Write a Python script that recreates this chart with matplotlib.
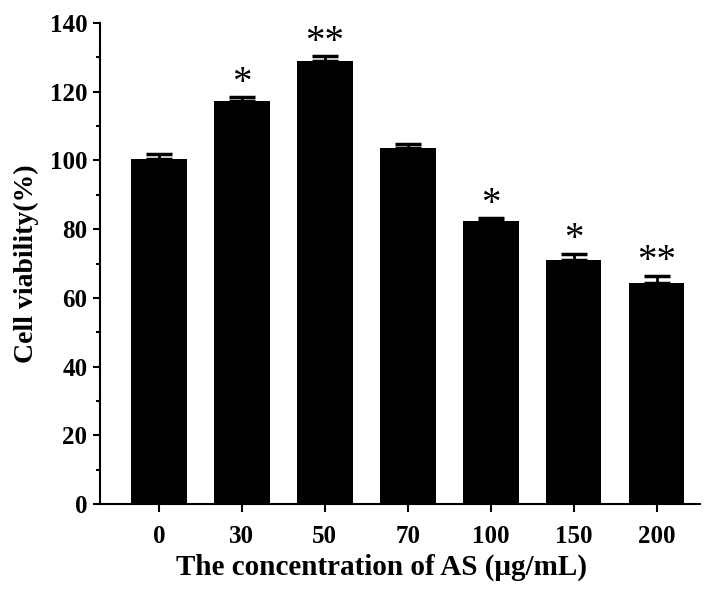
import matplotlib
matplotlib.use("Agg")
import matplotlib.pyplot as plt
import numpy as np
from matplotlib.ticker import MultipleLocator

categories = ["0", "30", "50", "70", "100", "150", "200"]
values = [100.3, 117.2, 129.0, 103.5, 82.4, 71.1, 64.3]
errors = [1.5, 1.3, 1.4, 1.2, 0.8, 1.8, 2.2]
marks = ["", "*", "**", "", "*", "*", "**"]

plt.rcParams['font.family'] = ['Liberation Serif', 'DejaVu Serif']
plt.rcParams['font.weight'] = 'bold'

fig = plt.figure(figsize=(7.09, 5.98), dpi=100)
ax = fig.add_axes([0.141, 0.157, 0.846, 0.8045])

x = np.arange(len(categories))
ax.bar(x, values, width=0.67, color='black', zorder=2)
ax.errorbar(x, values, yerr=[np.zeros(len(errors)), errors], fmt='none',
            ecolor='black', elinewidth=2, capsize=9.5, capthick=2.5, zorder=1)

for xi, v, e, m in zip(x, values, errors, marks):
    if m:
        ax.text(xi, v + e - 1.4, m, ha='center', va='bottom', fontsize=28,
                fontweight='normal', color='black')

ax.set_xlim(-0.71, 6.52)
ax.set_ylim(0, 140)
ax.set_xticks(x)
ax.set_xticklabels(categories)
ax.yaxis.set_major_locator(MultipleLocator(20))
ax.yaxis.set_minor_locator(MultipleLocator(10))

for s in ['top', 'right']:
    ax.spines[s].set_visible(False)
for s in ['left', 'bottom']:
    ax.spines[s].set_linewidth(1.5)

ax.tick_params(axis='y', which='major', length=5, width=1.5, labelsize=18, pad=4)
ax.tick_params(axis='y', which='minor', length=3, width=1.5)
ax.tick_params(axis='x', which='major', length=6, width=1.5, labelsize=18, pad=9)

ax.set_xlabel("The concentration of AS (μg/mL)", fontsize=21, fontweight='bold')
ax.xaxis.set_label_coords(0.469, -0.103)
ax.set_ylabel("Cell viability(%)", fontsize=20, fontweight='bold', labelpad=8)

fig.savefig("out.png", dpi=100)
